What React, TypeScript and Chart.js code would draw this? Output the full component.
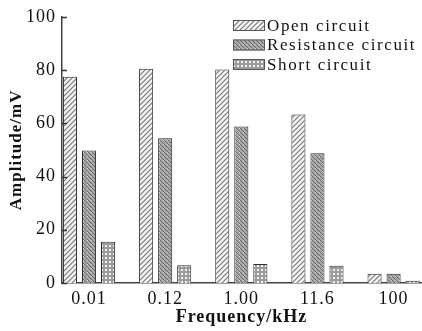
import React, { useEffect, useRef } from "react";
import { Chart, registerables } from "chart.js";

Chart.register(...registerables);

const categories = ["0.01", "0.12", "1.00", "11.6", "100"];
const openCircuit = [77.5, 80.5, 80.2, 63.3, 3.5];
const resistanceCircuit = [49.8, 54.4, 58.8, 48.7, 3.5];
const shortCircuit = [15.5, 6.7, 7.1, 6.5, 0.8];
const seriesNames = ["Open circuit", "Resistance circuit", "Short circuit"];
const yTicks = [0, 20, 40, 60, 80, 100];

function makePattern(kind: string): CanvasPattern | string {
  const c = document.createElement("canvas");
  const s = kind === "open" ? 5 : 4;
  c.width = s;
  c.height = s;
  const g = c.getContext("2d");
  if (!g) return "#999";
  if (kind === "open") {
    g.fillStyle = "#f4f4f4";
    g.fillRect(0, 0, s, s);
    g.strokeStyle = "#7a7a7a";
    g.lineWidth = 1.2;
    g.beginPath();
    g.moveTo(-1, s + 1);
    g.lineTo(s + 1, -1);
    g.moveTo(-1, 1);
    g.lineTo(1, -1);
    g.moveTo(s - 1, s + 1);
    g.lineTo(s + 1, s - 1);
    g.stroke();
  } else if (kind === "res") {
    g.fillStyle = "#a8a8a8";
    g.fillRect(0, 0, s, s);
    g.strokeStyle = "#6a6a6a";
    g.lineWidth = 1;
    g.beginPath();
    g.moveTo(-1, -1);
    g.lineTo(s + 1, s + 1);
    g.stroke();
    g.fillStyle = "#d0d0d0";
    g.fillRect(s - 1, 0, 1, 1);
  } else {
    g.fillStyle = "#9c9c9c";
    g.fillRect(0, 0, s, s);
    g.fillStyle = "#f0f0f0";
    g.fillRect(1, 1, 2, 2);
  }
  const p = g.createPattern(c, "repeat");
  return p || "#999";
}

const FONT = "'Liberation Serif', 'Times New Roman', serif";

export default function App() {
  const ref = useRef<HTMLCanvasElement | null>(null);

  useEffect(() => {
    document.body.style.margin = "0";
    const canvas = ref.current;
    if (!canvas) return;
    const fills = [makePattern("open"), makePattern("res"), makePattern("short")];
    const seriesValues = [openCircuit, resistanceCircuit, shortCircuit];

    const spacingPlugin = {
      id: "spacing",
      beforeDraw(chart: any) {
        (chart.ctx as any).letterSpacing = "1px";
      },
    };

    const innerTicks = {
      id: "innerTicks",
      afterDraw(chart: any) {
        const ctx = chart.ctx;
        const y = chart.scales.y;
        const left = chart.chartArea.left;
        ctx.save();
        ctx.strokeStyle = "#333";
        ctx.lineWidth = 1.5;
        yTicks.forEach((v) => {
          const py = Math.round(y.getPixelForValue(v)) + 0.5;
          ctx.beginPath();
          ctx.moveTo(left, py);
          ctx.lineTo(left + 5, py);
          ctx.stroke();
        });
        ctx.restore();
      },
    };

    const customLegend = {
      id: "customLegend",
      afterDraw(chart: any) {
        const ctx = chart.ctx;
        const area = chart.chartArea;
        const boxX = area.left + 171;
        const boxW = 32;
        const boxH = 11;
        const rowY = [25.5, 45, 64.5];
        ctx.save();
        (ctx as any).letterSpacing = "1.6px";
        ctx.font = "17px " + FONT;
        ctx.textBaseline = "middle";
        ctx.textAlign = "left";
        chart.data.datasets.forEach((ds: any, i: number) => {
          const cy = rowY[i];
          ctx.fillStyle = ds.backgroundColor;
          ctx.fillRect(boxX, cy - boxH / 2, boxW, boxH);
          ctx.strokeStyle = "#555";
          ctx.lineWidth = 1;
          ctx.strokeRect(boxX + 0.5, cy - boxH / 2 + 0.5, boxW - 1, boxH - 1);
          ctx.fillStyle = "#111";
          ctx.fillText(ds.label, boxX + boxW + 2, cy + 1);
        });
        ctx.restore();
      },
    };

    const chart = new Chart(canvas, {
      type: "bar",
      data: {
        datasets: seriesValues.map((vals, i) => ({
          label: seriesNames[i],
          data: vals.map((v, j) => ({ x: j, y: v })),
          backgroundColor: fills[i] as any,
          borderColor: "#2a2a2a",
          borderWidth: 1,
          categoryPercentage: 0.75,
          barPercentage: 0.74,
        })),
      },
      options: {
        animation: false,
        responsive: false,
        devicePixelRatio: 1,
        layout: { padding: { top: 16, right: 1, left: 0, bottom: 0 } },
        plugins: {
          legend: { display: false },
          tooltip: { enabled: false },
        },
        scales: {
          x: {
            type: "linear",
            offset: false,
            min: -0.355,
            max: 4.36,
            afterBuildTicks(scale: any) {
              scale.ticks = categories.map((_, i) => ({ value: i }));
            },
            afterFit(scale: any) {
              scale.height = 48;
            },
            ticks: {
              autoSkip: false,
              maxRotation: 0,
              padding: 5,
              color: "#111",
              font: { family: FONT, size: 18 },
              callback: (v: any) => categories[Math.round(Number(v))] ?? "",
            },
            grid: { display: false, drawTicks: false },
            border: { display: true, color: "#444", width: 1.5 },
            title: {
              display: true,
              text: "Frequency/kHz",
              color: "#111",
              font: { family: FONT, size: 18, weight: "bold" },
              padding: { top: 0, bottom: 3 },
            },
          },
          y: {
            min: 0,
            max: 100,
            afterBuildTicks(scale: any) {
              scale.ticks = yTicks.map((v) => ({ value: v }));
            },
            afterFit(scale: any) {
              scale.width = 62;
            },
            ticks: {
              padding: 6,
              color: "#111",
              font: { family: FONT, size: 18 },
            },
            grid: { display: false, drawTicks: false },
            border: { display: true, color: "#444", width: 1.5 },
            title: {
              display: true,
              text: "Amplitude/mV",
              color: "#111",
              font: { family: FONT, size: 17, weight: "bold" },
              padding: { top: 6, bottom: 0 },
            },
          },
        },
      },
      plugins: [spacingPlugin, innerTicks, customLegend],
    } as any);

    return () => chart.destroy();
  }, []);

  return (
    <div style={{ width: 422, height: 331, background: "#fff" }}>
      <canvas ref={ref} width={422} height={331} />
    </div>
  );
}
